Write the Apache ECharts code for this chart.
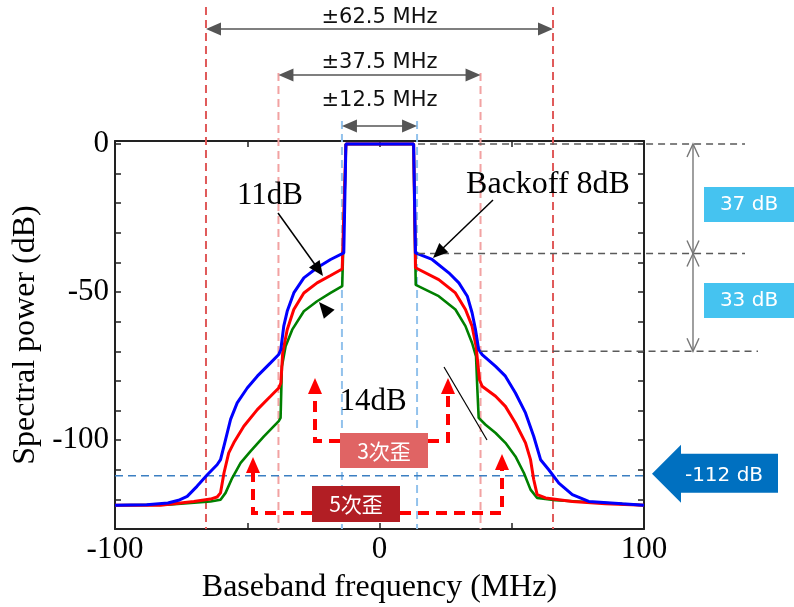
<!DOCTYPE html>
<html><head><meta charset="utf-8">
<script src="https://cdn.jsdelivr.net/npm/echarts/dist/echarts.min.js"></script>
<style>html,body{margin:0;padding:0;background:#fff}#c{width:794px;height:607px}</style>
</head><body><div id="c"></div>
<script>
// ---- data (MHz, dB) ----
const blueX = [-100,-88,-80,-76,-72.7,-69,-65.1,-61.4,-60.1,-58.2,-56.3,-53.8,-50,-46.2,-41.2,-38.1,-37.3,-36.2,-34.9,-32.4,-28.6,-23.6,-18.5,-13.5,-12.7,0,12.9,13.6,19.9,26.2,30.0,33.2,35.0,36.3,37.5,38.8,43.9,47.6,51.4,55.2,58.3,60.9,64.0,67.8,72.9,79.1,91.8,100];
const blueY = [-122,-121.8,-121.2,-120.3,-119,-115.6,-111.7,-108.3,-106.6,-99.8,-93,-87.4,-82.4,-78.4,-73.9,-71.1,-69.4,-61.5,-56.5,-50.3,-45.2,-41.8,-39.0,-36.8,0,0,0,-36.8,-39.0,-43.5,-46.9,-51.4,-57.0,-62.7,-69.4,-71.1,-75.1,-78.4,-84.1,-90.8,-98.7,-106.6,-110.0,-114.5,-118.4,-120.7,-121.5,-122];
const redX = [-100,-82.8,-70.2,-63.9,-61.4,-60.1,-58.8,-57.0,-55.1,-51.3,-46.2,-41.2,-38.1,-37.3,-36.6,-34.9,-32.4,-28.6,-23.6,-18.5,-14.1,-13.5,-12.7,0,12.9,13.6,14.2,22.4,28.7,32.5,35.0,36.5,37.8,38.8,43.9,47.6,51.4,55.2,57.1,58.3,59.6,62.8,72.9,85.4,100];
const redY = [-122,-122,-120.7,-119.9,-119.2,-117.8,-111.1,-104.3,-100.9,-95.3,-89.7,-85.2,-82.4,-80.7,-70.5,-62.7,-55.9,-50.3,-46.9,-44.4,-42.2,-41.6,0,0,0,-41.8,-42.4,-45.8,-50.3,-55.9,-61.5,-68.3,-79.6,-81.8,-85.2,-88.6,-94.2,-100.9,-106.6,-113.3,-118.4,-119.5,-120.7,-121.5,-122];
const greenX = [-100,-80,-63.9,-60.1,-58.2,-55.7,-52.5,-48.8,-43.7,-38.1,-37.4,-36.9,-35.5,-33.0,-28.6,-23.6,-18.5,-14.1,-13.7,-12.7,0,12.9,13.7,14.2,22.4,28.7,32.5,35.0,36.5,37.0,37.5,40.1,43.9,47.6,51.4,54.6,57.1,59.6,66.5,85.4,100];
const greenY = [-122,-121.8,-120.7,-120.1,-117.8,-112.8,-107.7,-103.8,-98.7,-93.6,-92.5,-75.1,-68.3,-62.7,-56.5,-53.1,-50.3,-48.0,-47.5,0,0,0,-47.6,-48.0,-51.4,-55.9,-61.5,-67.2,-71.7,-82.9,-92.5,-94.8,-97.6,-100.9,-105.5,-111.1,-116.7,-119.5,-120.3,-121.2,-122];
// annotation values
const edge3 = 65.6, edge2 = 38.2, edge1 = 14.2;   // dashed verticals (MHz)
const bandLabels = ['±62.5 MHz','±37.5 MHz','±12.5 MHz'];
const levels = [0,-37,-70];                        // dB levels of the dimension lines
const levelLabels = ['37 dB','33 dB'];
const floorLevel = -112;
const floorLabel = '-112 dB';
const xLabelValues = [-100,0,100];
const yLabelValues = [0,-50,-100];

const SERIF = 'Liberation Serif', SANS = 'DejaVu Sans', CJK = 'Noto Sans CJK JP';
const chart = echarts.init(document.getElementById('c'));
const pairs = (a,b)=>a.map((x,i)=>[x,b[i]]);
const axisLineStyle = {color:'#222', width:2};
const mkX = (pos, show) => ({type:'value', min:-100, max:100, interval:50, position:pos,
  axisLine:{onZero:false, lineStyle:axisLineStyle},
  axisTick:{inside:true, length:6, lineStyle:{color:'#222', width:1.5}},
  axisLabel:{show:show, fontFamily:SERIF, fontSize:31, color:'#000', margin:5,
    formatter:v=>xLabelValues.includes(v)?String(v):''},
  splitLine:{show:false}});
const mkY = (pos, show) => ({type:'value', min:-130, max:1, interval:10, position:pos,
  axisLine:{onZero:false, lineStyle:axisLineStyle},
  axisTick:{inside:true, length:6, lineStyle:{color:'#222', width:1.5}},
  axisLabel:{show:show, fontFamily:SERIF, fontSize:31, color:'#000', margin:6,
    formatter:v=>yLabelValues.includes(v)?String(v):''},
  splitLine:{show:false}});
const xa = mkX('bottom', true);
xa.name = 'Baseband frequency (MHz)'; xa.nameLocation='middle'; xa.nameGap=43;
xa.nameTextStyle = {fontFamily:SERIF, fontSize:32, color:'#000'};
const ya = mkY('left', true);
ya.name = 'Spectral power (dB)'; ya.nameLocation='middle'; ya.nameGap=70; ya.nameRotate=90;
ya.nameTextStyle = {fontFamily:SERIF, fontSize:32, color:'#000'};
const ln = (c,w)=>({type:'line', symbol:'none', showSymbol:false, silent:true, animation:false, z:3,
  lineStyle:{color:c, width:w}});
chart.setOption({
  animation:false,
  grid:{left:115, right:150, top:141, bottom:78, containLabel:false, outerBoundsMode:'none'},
  xAxis:[xa, mkX('top', false)],
  yAxis:[ya, mkY('right', false)],
  series:[
    Object.assign(ln('#008000',2.6), {data:pairs(greenX, greenY)}),
    Object.assign(ln('#ff0000',3), {data:pairs(redX, redY)}),
    Object.assign(ln('#0000ff',3), {data:pairs(blueX, blueY)})
  ]
});

const X = v=>chart.convertToPixel({xAxisIndex:0}, v);
const Y = v=>chart.convertToPixel({yAxisIndex:0}, v);
const G = [];
function line(x1,y1,x2,y2,color,w,dash,z){G.push({type:'line',silent:true,z:z||50,shape:{x1,y1,x2,y2},style:{stroke:color,lineWidth:w,lineDash:dash||null}});}
function pl(points,color,w,dash,z){G.push({type:'polyline',silent:true,z:z||50,shape:{points},style:{stroke:color,lineWidth:w,lineDash:dash||null,fill:null}});}
function poly(points,fill,z){G.push({type:'polygon',silent:true,z:z||50,shape:{points},style:{fill}});}
function rect(x,y,w,h,fill,z){G.push({type:'rect',silent:true,z:z||50,shape:{x,y,width:w,height:h},style:{fill}});}
function head(tx,ty,fx,fy,len,hw,fill,z){const dx=tx-fx,dy=ty-fy,L=Math.hypot(dx,dy),ux=dx/L,uy=dy/L;const bx=tx-ux*len,by=ty-uy*len;poly([[tx,ty],[bx-uy*hw,by+ux*hw],[bx+uy*hw,by-ux*hw]],fill,z);}
function vhead(tx,ty,dy,color){pl([[tx-6,ty+dy*13],[tx,ty],[tx+6,ty+dy*13]],color,1.4,null,60);}
function text(x,y,s,font,size,color,extra){G.push(Object.assign({type:'text',silent:true,z:80,x,y,style:{text:s,fontFamily:font,fontSize:size,fill:color,align:'center',verticalAlign:'middle'}},extra||{}));}

const yBot = Y(-130);
// vertical dashed guides
[[edge3,7,'#e05a5a'],[edge2,73,'#f2a2a2'],[edge1,121,'#92c2ec']].forEach(([e,top,c])=>{
  line(X(-e),top,X(-e),yBot,c,2,[8,5],1); line(X(e),top,X(e),yBot,c,2,[8,5],1);
});
// bandwidth arrows
[[edge3,29,18],[edge2,75,63],[edge1,126,101]].forEach(([e,y,ty],i)=>{
  const a=X(-e), b=X(e);
  line(a+12,y,b-12,y,'#555',1.5,null,60);
  head(a,y,a+20,y,15,6.5,'#555',60); head(b,y,b-20,y,15,6.5,'#555',60);
  text(X(0),ty,bandLabels[i],SANS,21,'#111');
});
// right level dimension lines
const yl = levels.map(Y);
line(X(edge1)+1,yl[0],745,yl[0],'#5a5a5a',1.5,[7,5],5);
line(X(edge1)+1,yl[1],745,yl[1],'#5a5a5a',1.5,[7,5],5);
line(X(edge2),yl[2],758,yl[2],'#5a5a5a',1.5,[7,5],5);
line(693,yl[0],693,yl[2],'#777',1.4,null,60);
vhead(693,yl[0],1,'#777'); vhead(693,yl[1],-1,'#777'); vhead(693,yl[1],1,'#777'); vhead(693,yl[2],-1,'#777');
rect(704,187,90,35,'#45c3f0',70); text(749,205,levelLabels[0],SANS,20,'#fff');
rect(704,283,90,35,'#45c3f0',70); text(749,301,levelLabels[1],SANS,20,'#fff');
// -112 dB floor
const yf = Y(floorLevel);
line(X(-100),yf,X(100),yf,'#3b7fc2',1.5,[8,5],1);
poly([[652,yf-2],[681,yf-31],[681,yf-22],[778,yf-22],[778,yf+17],[681,yf+17],[681,yf+27]],'#0070c0',70);
text(724,yf,floorLabel,SANS,20,'#fff');
// distortion arrows
const RD='#ff0000', rdash=[11,7];
pl([[340,441],[315,441],[315,393]],RD,4,rdash,60); head(315,378,315,400,16,7,RD,60);
pl([[428,441],[448,441],[448,393]],RD,4,rdash,60); head(448,378,448,400,16,7,RD,60);
pl([[312,513],[253,513],[253,472]],RD,4,rdash,60); head(253,457,253,480,16,7,RD,60);
pl([[400,513],[502,513],[502,470]],RD,4,rdash,60); head(502,454,502,480,16,7,RD,60);
rect(340,433,88,35,'#e06464',70); text(384,451,'3次歪',CJK,21,'#fff');
rect(312,486,88,36,'#b21e24',70); text(356,504,'5次歪',CJK,21,'#fff');
// black callouts
line(278,213,316,266,'#000',1.5,null,60); head(323,276,278,213,15,6.5,'#000',60);
line(493,200,440,251,'#000',1.5,null,60); head(433,258,493,200,15,6.5,'#000',60);
head(319,302,334,320,16,7,'#000',60);
line(444,367,487,440,'#000',1.2,null,60);
text(270,196,'11dB',SERIF,31,'#000');
text(548,185,'Backoff 8dB',SERIF,32,'#000');
text(373,402,'14dB',SERIF,31,'#000');
chart.setOption({graphic:{elements:G}});
</script></body></html>
